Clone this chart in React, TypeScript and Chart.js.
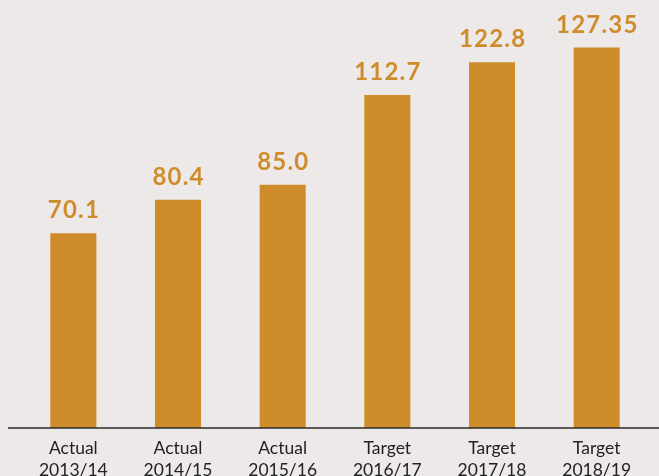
import React, { useEffect, useRef } from "react";
import { Chart, registerables } from "chart.js";

Chart.register(...registerables);

const categories: string[][] = [
  ["Actual", "2013/14"],
  ["Actual", "2014/15"],
  ["Actual", "2015/16"],
  ["Target", "2016/17"],
  ["Target", "2017/18"],
  ["Target", "2018/19"],
];
const values: number[] = [70.1, 80.4, 85.0, 112.7, 122.8, 127.35];
const valueLabels: string[] = ["70.1", "80.4", "85.0", "112.7", "122.8", "127.35"];

const BG = "#EDE9E8";
const BAR = "#CF8C2A";

const valueLabelPlugin = {
  id: "valueLabels",
  afterDatasetsDraw(chart: any) {
    const ctx = chart.ctx;
    const meta = chart.getDatasetMeta(0);
    const spacing = 1.2;
    ctx.save();
    ctx.fillStyle = BAR;
    ctx.font = "bold 24px Lato";
    (ctx as any).letterSpacing = spacing + "px";
    ctx.textAlign = "center";
    ctx.textBaseline = "alphabetic";
    meta.data.forEach((bar: any, i: number) => {
      ctx.fillText(valueLabels[i], bar.x + spacing / 2, bar.y - 15);
    });
    ctx.restore();
  },
};

const axisLinePlugin = {
  id: "axisLine",
  afterDraw(chart: any) {
    const ctx = chart.ctx;
    const y = chart.chartArea.bottom;
    ctx.save();
    ctx.strokeStyle = "#2a2a2a";
    ctx.lineWidth = 1.5;
    ctx.beginPath();
    ctx.moveTo(8, y);
    ctx.lineTo(chart.width, y);
    ctx.stroke();
    ctx.restore();
  },
};

export default function App() {
  const ref = useRef<HTMLCanvasElement | null>(null);
  useEffect(() => {
    document.body.style.background = BG;
    const chart = new Chart(ref.current as HTMLCanvasElement, {
      type: "bar",
      data: {
        labels: categories,
        datasets: [
          {
            data: values,
            backgroundColor: BAR,
            borderWidth: 0,
            barPercentage: 0.44,
            categoryPercentage: 1,
          },
        ],
      },
      options: {
        animation: false,
        responsive: true,
        maintainAspectRatio: false,
        layout: { padding: { left: 21, right: 10, top: 0, bottom: 0 } },
        plugins: { legend: { display: false }, tooltip: { enabled: false } },
        scales: {
          x: {
            grid: { display: false, drawTicks: false },
            border: { display: false },
            ticks: {
              color: "#222",
              font: { family: "Lato", size: 17.5, lineHeight: 1.22 },
              padding: 10,
              maxRotation: 0,
              autoSkip: false,
            },
            afterFit: (scale: any) => {
              scale.height = 48;
            },
          },
          y: {
            display: false,
            min: 10,
            max: 142,
          },
        },
      },
      plugins: [valueLabelPlugin, axisLinePlugin],
    });
    return () => chart.destroy();
  }, []);
  return (
    <div
      style={{
        position: "fixed",
        left: 0,
        top: 0,
        width: 659,
        height: 476,
        background: BG,
      }}
    >
      <canvas ref={ref} />
    </div>
  );
}
